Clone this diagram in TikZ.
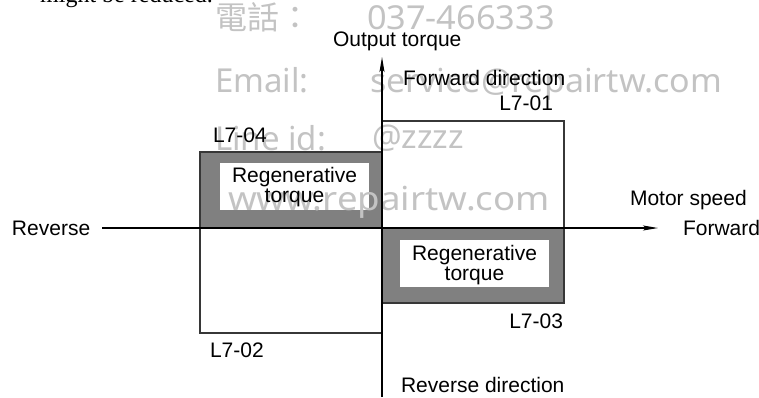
\documentclass[tikz,border=0pt]{standalone}
\usepackage{fontspec}
\usepackage{graphicx}
\setmainfont{Liberation Sans}
\newfontfamily\wmfont{Noto Sans}
\newfontfamily\wmcjk{Noto Sans CJK TC}
\newfontfamily\docserif{Liberation Serif}
\usetikzlibrary{arrows.meta}
\definecolor{wmgray}{RGB}{195,195,195}
\definecolor{boxgray}{RGB}{128,128,128}
\definecolor{edgegray}{RGB}{55,55,55}
\begin{document}
\begin{tikzpicture}[x=1pt,y=-1pt,
  lbl/.style={inner sep=0pt, outer sep=0pt, font=\fontsize{21}{20}\selectfont},
  wm/.style={inner sep=0pt, outer sep=0pt, text=wmgray, font=\wmfont\fontsize{33}{33}\selectfont, anchor=base west},
  quad/.style={draw=edgegray, line width=1.2pt, minimum width=182pt, inner sep=0pt, outer sep=0pt},
  regbox/.style={quad, fill=boxgray},
  innerbox/.style={fill=white, minimum width=149pt, minimum height=47pt, inner sep=0pt, outer sep=0pt},
  axisline/.style={line width=1.2pt, -{Stealth[length=15pt,width=5pt,inset=3pt]}}
]
\useasboundingbox (0,0) rectangle (759,397);
% quadrant boxes
\node[quad, minimum height=107pt] (q1) at (473,174.5) {};
\node[quad, minimum height=105pt] (q3) at (291,280.5) {};
\node[regbox, minimum height=76pt] (q2) at (291,190) {};
\node[regbox, minimum height=75pt] (q4) at (473,265.5) {};
\node[innerbox] (ir1) at (294.5,186.5) {};
\node[innerbox] (ir2) at (474.5,263.5) {};
% watermark
\node[wm, font=\wmcjk\fontsize{32}{32}\selectfont] (w1) at (215,29) {電話：};
\node[wm] (w2) at (367,29) {\scalebox{1.04}[1]{037-466333}};
\node[wm] (w3) at (215,92) {Email:};
\node[wm] (w4) at (370,92) {\scalebox{1.03}[1]{service@repairtw.com}};
\node[wm] (w5) at (215,150) {Line id:};
\node[wm] (w6) at (372,148) {@zzzz};
\node[wm] (w7) at (228,210) {\scalebox{1.11}[1]{www.repairtw.com}};
% cut-off text at top
\node[inner sep=0pt, anchor=base west, font=\docserif\fontsize{24}{24}\selectfont] (top) at (40,2) {might be reduced.};
% axes
\coordinate (xl) at (102,228);
\coordinate (xr) at (658,228);
\coordinate (yb) at (382,397);
\coordinate (yt) at (382,57);
\draw[axisline] (xl) -- (xr);
\draw[axisline] (yb) -- (yt);
% labels
\node[lbl, anchor=base west] (ot) at (333,46) {Output torque};
\node[lbl, anchor=base west] (fd) at (403,85) {Forward direction};
\node[lbl, anchor=base east] (l701) at (553,110) {L7-01};
\node[lbl, anchor=base west] (l704) at (213,142) {L7-04};
\node[lbl, anchor=base west] (ms) at (630,205) {Motor speed};
\node[lbl, anchor=base west] (fw) at (683,235) {Forward};
\node[lbl, anchor=base west] (rv) at (12,235) {Reverse};
\node[lbl, anchor=base east] (l703) at (563,328) {L7-03};
\node[lbl, anchor=base west] (l702) at (210,357) {L7-02};
\node[lbl, anchor=base west] (rd) at (401,392) {Reverse direction};
\node[lbl, align=center, yshift=-0.5pt] (rt1) at (ir1) {Regenerative\\torque};
\node[lbl, align=center, yshift=-1.5pt] (rt2) at (ir2) {Regenerative\\torque};
\end{tikzpicture}
\end{document}
